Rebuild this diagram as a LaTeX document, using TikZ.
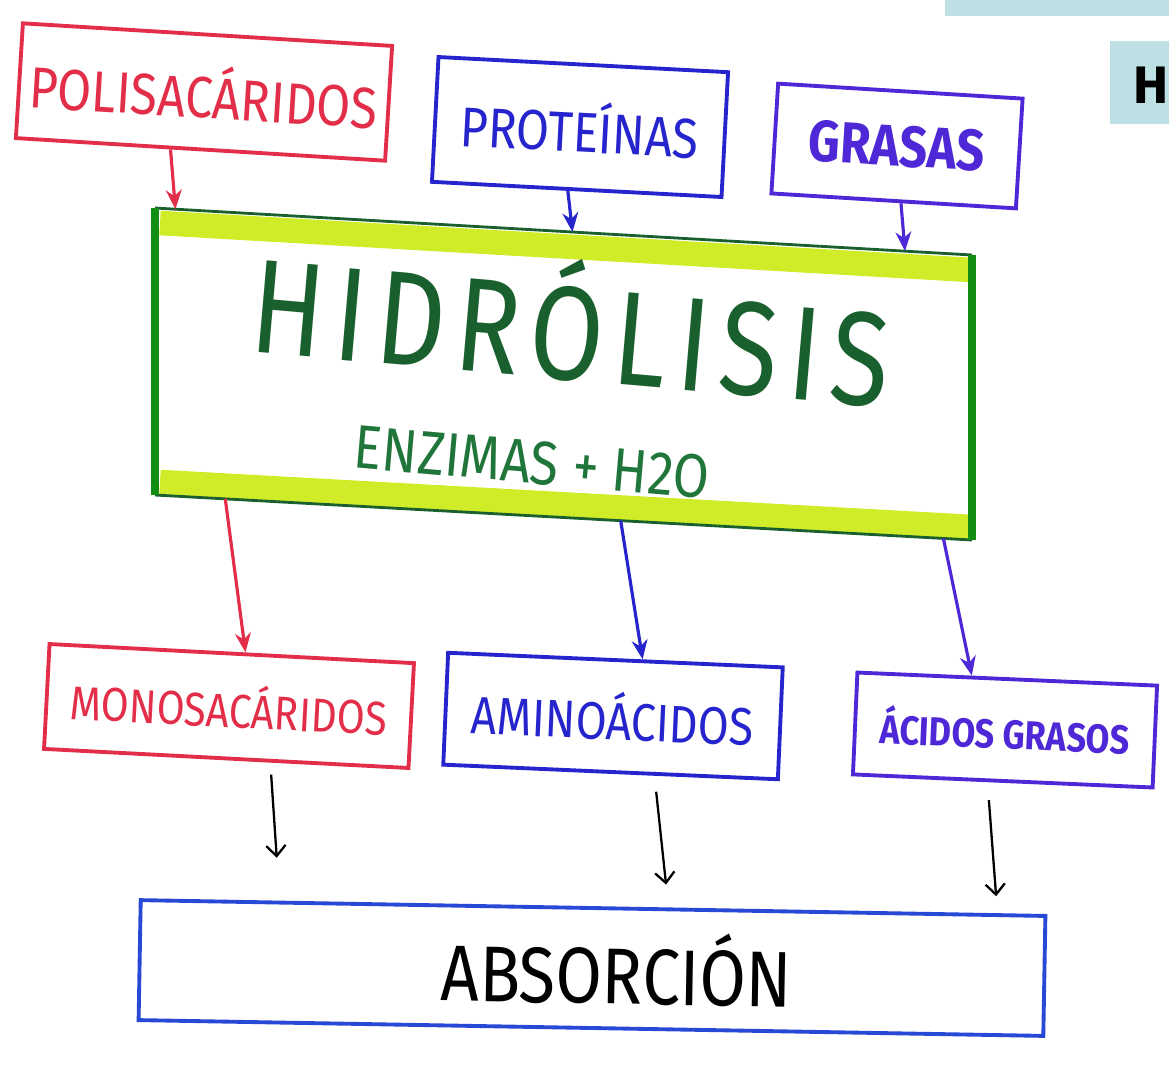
\documentclass[tikz,border=0pt]{standalone}
\usepackage{fontspec}
\setmainfont{Fira Sans}
\newfontfamily\trazo[FakeStretch=0.85]{Fira Sans}
\newfontfamily\trazoancho[FakeStretch=0.8, LetterSpace=8]{Fira Sans}
\usetikzlibrary{arrows.meta, calc}
\definecolor{polired}{RGB}{226,46,72}
\definecolor{protblue}{RGB}{38,36,205}
\definecolor{grasblue}{RGB}{78,40,215}
\definecolor{absblue}{RGB}{40,72,214}
\definecolor{hgreen}{RGB}{18,142,18}
\definecolor{hdark}{RGB}{26,96,46}
\definecolor{htext}{RGB}{32,118,58}
\definecolor{hlime}{RGB}{208,236,40}
\definecolor{pale}{RGB}{188,224,227}
\tikzset{
  caja/.style={
    rectangle,
    draw, line width=2.2pt,
    inner sep=0pt},
  flecha/.style={draw, line width=1.8pt, -{Stealth[length=11pt, width=9pt]}},
  flechanegra/.style={draw=black, line width=1.3pt, -{Straight Barb[length=6pt, width=11pt]}},
  banda/.style={draw=hlime, line width=14pt},
}
\begin{document}
\begin{tikzpicture}[x=0.02cm, y=-0.02cm]
  \useasboundingbox (0,0) rectangle (1169,1080);
  % corner of the slide
  \fill[pale] (945,0) rectangle (1169,16);
  \node[fill=pale, anchor=north west, minimum width=2cm, minimum height=1.66cm, inner sep=0pt] (titulo) at (1110,41) {};
  \node[anchor=west, font=\bfseries\fontsize{30}{30}\selectfont] (tituloH) at (1127,85) {H};

  % sources
  \node[caja, draw=polired, text=polired, minimum width=7.4cm, minimum height=2.3cm, rotate=-3.5,
        font=\trazo\fontsize{33}{33}\selectfont] (poli) at (204,92) {POLISACÁRIDOS};
  \node[caja, draw=protblue, text=protblue, minimum width=5.8cm, minimum height=2.5cm, rotate=-3,
        font=\trazo\fontsize{32}{32}\selectfont] (prot) at (580,127) {PROTEÍNAS};
  \node[caja, draw=grasblue, text=grasblue, minimum width=4.9cm, minimum height=2.2cm, rotate=-3.5,
        font=\trazo\bfseries\fontsize{33}{33}\selectfont] (gras) at (897,146) {GRASAS};

  % hydrolysis
  \coordinate (hNW) at (155,208);
  \coordinate (hNE) at (972,255);
  \coordinate (hSE) at (972,540);
  \coordinate (hSW) at (155,495);
  \draw[banda] ($(hNW)+(5,15)$) -- ($(hNE)+(0,15)$);
  \draw[banda] ($(hSW)+(5,-13)$) -- ($(hSE)+(0,-13)$);
  \draw[hdark, line width=1.6pt] (hNW) -- (hNE);
  \draw[hdark, line width=1.6pt] (hSW) -- (hSE);
  \draw[hgreen, line width=4.5pt] (hNW) -- (hSW) (hNE) -- (hSE);
  \node[text=hdark, rotate=-5, inner sep=0pt, font=\trazoancho\fontsize{76}{76}\selectfont] (hidro) at (572,320) {HIDRÓLISIS};
  \node[text=htext, rotate=-5, inner sep=0pt, font=\trazo\fontsize{35}{35}\selectfont] (enz) at (532,462) {ENZIMAS + H2O};

  % products
  \node[caja, draw=polired, text=polired, minimum width=7.3cm, minimum height=2.1cm, rotate=-3,
        font=\trazo\fontsize{27}{27}\selectfont] (mono) at (229,706) {MONOSACÁRIDOS};
  \node[caja, draw=protblue, text=protblue, minimum width=6.7cm, minimum height=2.24cm, rotate=-2.5,
        font=\trazo\fontsize{30}{30}\selectfont] (amino) at (613,716) {AMINOÁCIDOS};
  \node[caja, draw=grasblue, text=grasblue, minimum width=6cm, minimum height=2.04cm, rotate=-2.5,
        font=\trazo\bfseries\fontsize{23}{23}\selectfont] (acid) at (1005,730) {ÁCIDOS GRASOS};
  \node[caja, draw=absblue, text=black, minimum width=18.1cm, minimum height=2.4cm, rotate=-1,
        font=\trazo\fontsize{45}{45}\selectfont] (abs) at (592,968) {\hspace*{1cm}ABSORCIÓN};

  % arrows
  \draw[flecha, polired] ($(poli.south west)!0.42!(poli.south east)$) -- ($(hNW)!0.025!(hNE)$);
  \draw[flecha, protblue] ($(prot.south west)!0.47!(prot.south east)$) -- ($(hNW)!0.511!(hNE)$);
  \draw[flecha, grasblue] ($(gras.south west)!0.53!(gras.south east)$) -- ($(hNW)!0.918!(hNE)$);
  \draw[flecha, polired] ($(hSW)!0.086!(hSE)$) -- ($(mono.north west)!0.537!(mono.north east)$);
  \draw[flecha, protblue] ($(hSW)!0.57!(hSE)$) -- ($(amino.north west)!0.58!(amino.north east)$);
  \draw[flecha, grasblue] ($(hSW)!0.965!(hSE)$) -- ($(acid.north west)!0.383!(acid.north east)$);
  \draw[flechanegra, shorten <=0.24cm, shorten >=0.86cm] ($(mono.south west)!0.62!(mono.south east)$) -- ($(abs.north west)!0.155!(abs.north east)$);
  \draw[flechanegra, shorten <=0.32cm, shorten >=0.46cm] ($(amino.south west)!0.63!(amino.south east)$) -- ($(abs.north west)!0.583!(abs.north east)$);
  \draw[flechanegra, shorten <=0.36cm, shorten >=0.34cm] ($(acid.south west)!0.45!(acid.south east)$) -- ($(abs.north west)!0.945!(abs.north east)$);
\end{tikzpicture}
\end{document}
